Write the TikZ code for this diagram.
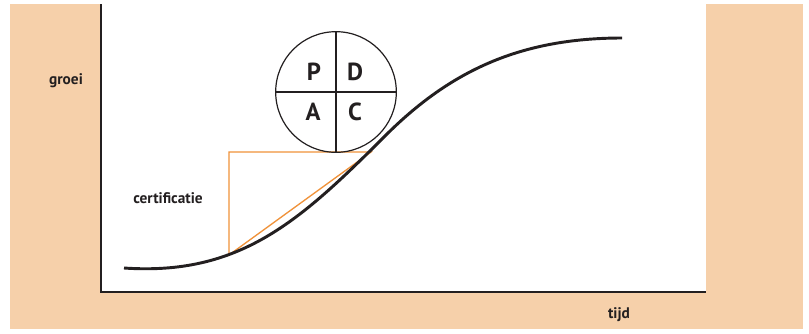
\documentclass[tikz,border=0pt]{standalone}
\usepackage{fontspec}
\setmainfont{PT Sans}
\definecolor{peach}{RGB}{246,208,170}
\definecolor{orangeline}{RGB}{240,146,58}
\definecolor{ink}{RGB}{35,31,32}
\begin{document}
\begin{tikzpicture}[x=0.75pt,y=-0.75pt,
  lbl/.style={font=\fontsize{11.5}{13}\selectfont\bfseries, text=ink, inner sep=0pt},
  pdca/.style={font=\fontsize{18.5}{20}\selectfont\bfseries, text=ink, inner sep=0pt},
  axisline/.style={draw=ink, line width=2.2pt},
  thin/.style={draw=ink, line width=0.9pt},
  tri/.style={draw=orangeline, line width=1pt}]
\useasboundingbox (0,0) rectangle (809,333);
\fill[peach] (10,4) rectangle (803,329);
\fill[white] (101,4) rectangle (706,292);
% axes
\coordinate (top) at (101,4);
\coordinate (origin) at (101,292);
\coordinate (xend) at (706,292);
\draw[axisline] (top) -- (origin) -- (xend);
% labels
\node[lbl] (groei) at (66,81) {groei};
\node[lbl] (tijd) at (619,315) {tijd};
\node[lbl] (cert) at (168,198) {certificatie};
% orange triangle
\coordinate (tA) at (229,255);
\coordinate (tB) at (229,152);
\coordinate (tC) at (371,152);
\draw[tri] (tA) -- (tB) -- (tC) -- cycle;
% curve
\coordinate (c0) at (124,268);
\coordinate (c1) at (385,136);
\coordinate (c2) at (622,38);
\draw[draw=ink, line width=2.2pt] (c0) .. controls (240,276) and (300,221) .. (c1)
  .. controls (450,71) and (520,38) .. (c2);
% PDCA circle
\node[circle, thin, minimum size=90.5pt, inner sep=0pt] (circ) at (336,92) {};
\draw[thin] (circ.north) -- (circ.south);
\draw[thin] (circ.west) -- (circ.east);
\node[pdca] (P) at (314,72) {P};
\node[pdca] (D) at (355,72) {D};
\node[pdca] (A) at (313,112) {A};
\node[pdca] (C) at (355,112) {C};
\end{tikzpicture}
\end{document}
